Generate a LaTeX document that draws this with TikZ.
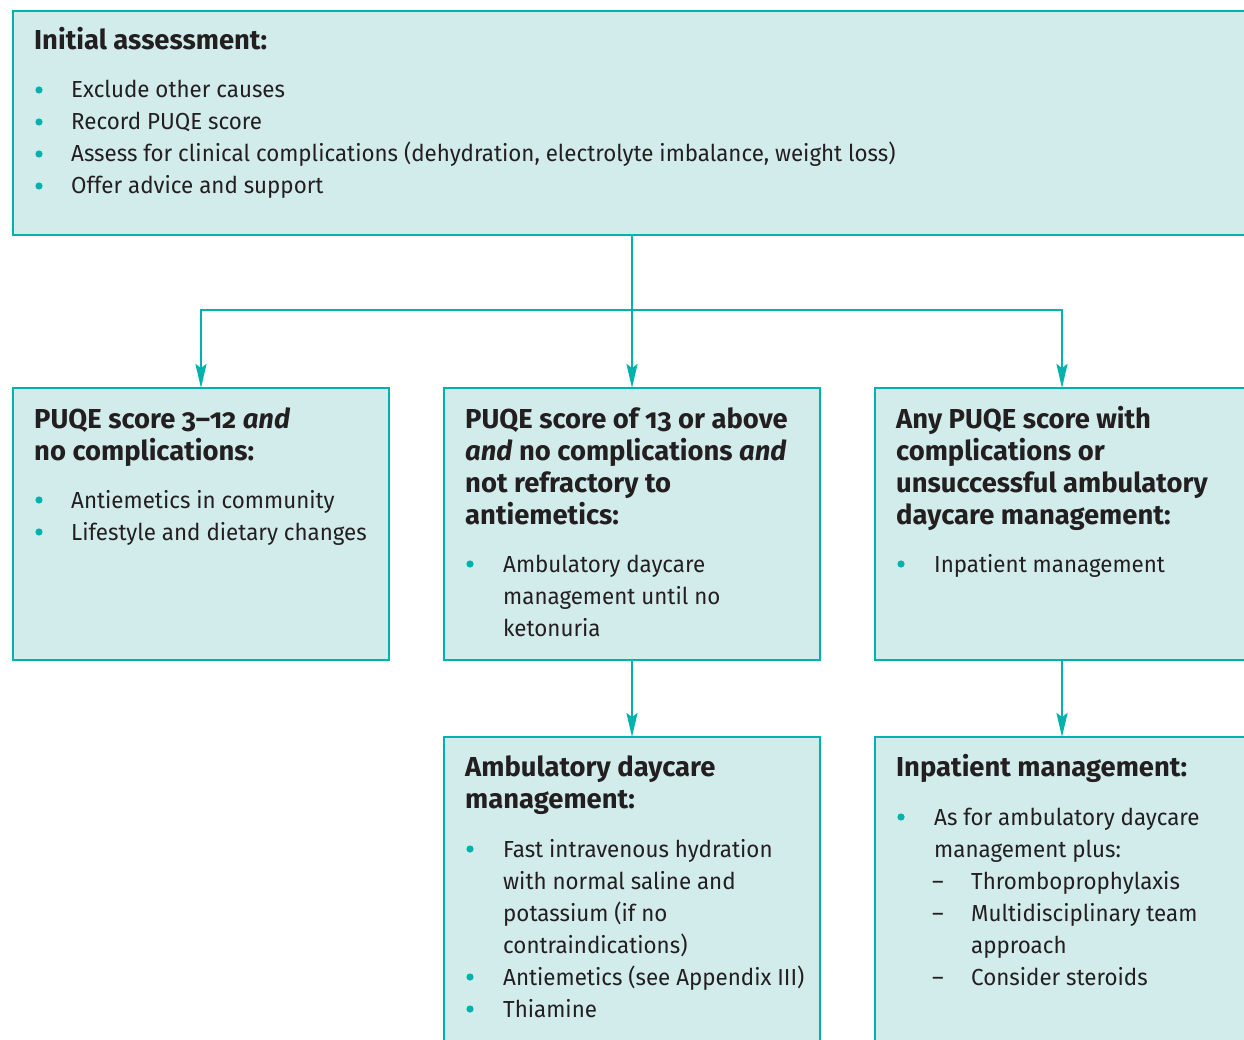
\documentclass[tikz,border=0pt]{standalone}
\usepackage{fontspec}
\setmainfont{Fira Sans}[Numbers=OldStyle]
\newfontfamily\bodyfont{Fira Sans}[Numbers=OldStyle, FakeStretch=0.963]
\usetikzlibrary{arrows.meta}
\definecolor{teal1}{RGB}{0,178,172}
\definecolor{boxfill}{RGB}{210,236,236}
\definecolor{ink}{RGB}{35,31,32}
\tikzset{
  box/.style={draw=teal1, fill=boxfill, line width=2.8pt, rectangle, anchor=north west, outer sep=0pt, inner sep=0pt},
  conn/.style={draw=teal1, line width=2.3pt, line join=miter},
  tip/.style={-{Stealth[length=24pt,width=11pt,inset=4pt]}},
  txt/.style={anchor=base west, inner sep=0pt, text=ink, font=\bodyfont\fontsize{23.2}{32}\selectfont},
  hd/.style={anchor=base west, inner sep=0pt, text=ink, font=\fontsize{27.4}{32}\selectfont\bfseries},
  dot/.style={fill=teal1}
}
\begin{document}
\begin{tikzpicture}[x=1pt,y=-1pt]
\useasboundingbox (0,0) rectangle (1244,1040);
\clip (0,0) rectangle (1244,1040);
% boxes
\node[box, minimum width=1260pt, minimum height=224pt] (top) at (13,11) {};
\node[box, minimum width=376pt, minimum height=272pt] (b1) at (13,388) {};
\node[box, minimum width=376pt, minimum height=272pt] (b2) at (444,388) {};
\node[box, minimum width=374pt, minimum height=272pt] (b3) at (875,388) {};
\node[box, minimum width=376pt, minimum height=330pt] (b4) at (444,737) {};
\node[box, minimum width=374pt, minimum height=330pt] (b5) at (875,737) {};
% connectors
\coordinate (split) at (632,310);
\draw[conn, {Stealth[length=24pt,width=11pt,inset=4pt]}-{Stealth[length=24pt,width=11pt,inset=4pt]}]
  (b1.north) -- (b1.north |- split) -- (b3.north |- split) -- (b3.north);
\draw[conn, tip] (top.south -| b2.north) -- (b2.north);
\draw[conn, tip] (b2.south) -- (b4.north);
\draw[conn, tip] (b3.south) -- (b5.north);
% top box text
\node[hd] (th) at (34,50) {Initial assessment:};
\foreach \y in {98,130,162,194} \fill[dot] (39,\y-8) circle (3.6pt);
\node[txt] (t1) at (71,98) {Exclude other causes};
\node[txt] (t2) at (71,130) {Record PUQE score};
\node[txt] (t3) at (71,162) {Assess for clinical complications (dehydration, electrolyte imbalance, weight loss)};
\node[txt] (t4) at (71,194) {Offer advice and support};
% box 1
\node[hd] (h1a) at (34,428) {PUQE score 3–12 \textit{and}};
\node[hd] (h1b) at (34,460) {no complications:};
\foreach \y in {508,540} \fill[dot] (39,\y-8) circle (3.6pt);
\node[txt] (p1a) at (71,508) {Antiemetics in community};
\node[txt] (p1b) at (71,540) {Lifestyle and dietary changes};
% box 2
\node[hd] (h2a) at (465,428) {PUQE score of 13 or above};
\node[hd] (h2b) at (465,460) {\textit{and} no complications \textit{and}};
\node[hd] (h2c) at (465,492) {not refractory to};
\node[hd] (h2d) at (465,524) {antiemetics:};
\fill[dot] (470,564) circle (3.6pt);
\node[txt] (p2a) at (503,572) {Ambulatory daycare};
\node[txt] (p2b) at (503,604) {management until no};
\node[txt] (p2c) at (503,636) {ketonuria};
% box 3
\node[hd] (h3a) at (896,428) {Any PUQE score with};
\node[hd] (h3b) at (896,460) {complications or};
\node[hd] (h3c) at (896,492) {unsuccessful ambulatory};
\node[hd] (h3d) at (896,524) {daycare management:};
\fill[dot] (901,564) circle (3.6pt);
\node[txt] (p3a) at (934,572) {Inpatient management};
% box 4
\node[hd] (h4a) at (465,776) {Ambulatory daycare};
\node[hd] (h4b) at (465,808) {management:};
\foreach \y in {857,985,1017} \fill[dot] (470,\y-8) circle (3.6pt);
\node[txt] (p4a) at (503,857) {Fast intravenous hydration};
\node[txt] (p4b) at (503,889) {with normal saline and};
\node[txt] (p4c) at (503,921) {potassium (if no};
\node[txt] (p4d) at (503,953) {contraindications)};
\node[txt] (p4e) at (503,985) {Antiemetics (see Appendix III)};
\node[txt] (p4f) at (503,1017) {Thiamine};
% box 5
\node[hd] (h5a) at (896,776) {Inpatient management:};
\fill[dot] (901,817) circle (3.6pt);
\node[txt] (p5a) at (934,825) {As for ambulatory daycare};
\node[txt] (p5b) at (934,857) {management plus:};
\node[txt] (d5a) at (932,889) {–};
\node[txt] (p5c) at (971,889) {Thromboprophylaxis};
\node[txt] (d5b) at (932,921) {–};
\node[txt] (p5d) at (971,921) {Multidisciplinary team};
\node[txt] (p5e) at (971,953) {approach};
\node[txt] (d5c) at (932,985) {–};
\node[txt] (p5f) at (971,985) {Consider steroids};
\end{tikzpicture}
\end{document}
